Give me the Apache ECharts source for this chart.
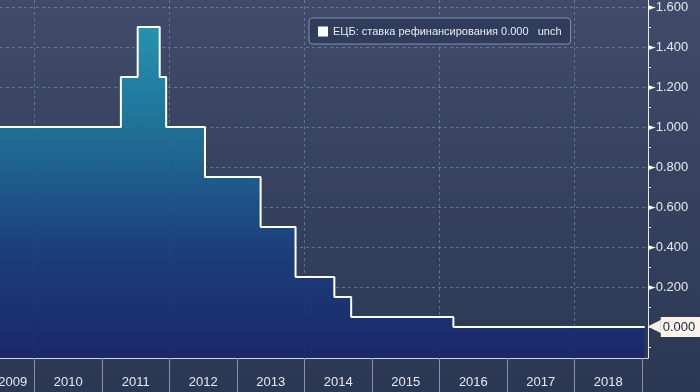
<!DOCTYPE html>
<html><head><meta charset="utf-8">
<script src="https://cdn.jsdelivr.net/npm/echarts@6/dist/echarts.min.js"></script>
<style>html,body{margin:0;padding:0;background:#2f3c58}#c{width:700px;height:392px}</style>
</head><body><div id="c"></div>
<script>
// ---- data ----
const changeDates = ['2009-05-13','2011-04-13','2011-07-13','2011-11-09','2011-12-14','2012-07-11','2013-05-08','2013-11-13','2014-06-11','2014-09-10','2016-03-16','2019-01-15'];
const rates = [1.00, 1.25, 1.50, 1.25, 1.00, 0.75, 0.50, 0.25, 0.15, 0.05, 0.00, 0.00];
const seriesName = 'ЕЦБ: ставка рефинансирования';
const changeText = 'unch';
const yearLabels = ['2009','2010','2011','2012','2013','2014','2015','2016','2017','2018'];
const yearLabelDates = ['2009-09-05','2010-07-02','2011-07-02','2012-07-02','2013-07-02','2014-07-02','2015-07-02','2016-07-02','2017-07-02','2018-07-02'];
const yearBoundaryDates = ['2010-01-01','2011-01-01','2012-01-01','2013-01-01','2014-01-01','2015-01-01','2016-01-01','2017-01-01','2018-01-01','2019-01-01'];
const gridYearDates = ['2010-01-01','2012-01-01','2014-01-01','2016-01-01','2018-01-01'];
const yTickLabels = [0.2, 0.4, 0.6, 0.8, 1.0, 1.2, 1.4, 1.6];
const yMinorTicks = [-0.1, 0, 0.1, 0.2, 0.3, 0.4, 0.5, 0.6, 0.7, 0.8, 0.9, 1.0, 1.1, 1.2, 1.3, 1.4, 1.5, 1.6];
const yGridValues = [0, 0.2, 0.4, 0.6, 0.8, 1.0, 1.2, 1.4, 1.6];
const xMin = '2009-06-28', xMax = '2019-02-02';
const yMin = -0.155, yMax = 1.635;

const ts = d => +new Date(d + 'T00:00:00Z');
const seriesData = changeDates.map((d, i) => [ts(d), rates[i]]);
const lastVal = rates[rates.length - 1];
const labelTs = yearLabelDates.map(ts);

const chart = echarts.init(document.getElementById('c'), null, {renderer: 'canvas'});
const FONT = 'Liberation Sans';
const gridLine = {show: true, lineStyle: {color: 'rgba(140,160,195,0.5)', type: [3, 3], width: 1}};

chart.setOption({
  animation: false,
  backgroundColor: new echarts.graphic.LinearGradient(0, 0, 0, 1, [
    {offset: 0, color: '#3f4b68'}, {offset: 1, color: '#2b3854'}
  ]),
  textStyle: {fontFamily: FONT},
  grid: {left: 0, right: 52, top: 0, bottom: 34, containLabel: false, outerBoundsMode: 'none'},
  legend: {
    left: 309, top: 18, padding: [8, 9, 7, 9],
    backgroundColor: '#2f3c5b', borderColor: '#8791a8', borderWidth: 1, borderRadius: 3,
    icon: 'rect', itemWidth: 10, itemHeight: 10, itemGap: 6,
    data: [seriesName],
    formatter: n => n + ' ' + lastVal.toFixed(3) + '   ' + changeText,
    textStyle: {color: '#e9ecf2', fontSize: 11, fontFamily: FONT}
  },
  xAxis: [{
    type: 'value', min: ts(xMin), max: ts(xMax), position: 'bottom',
    axisLine: {show: true, onZero: false, lineStyle: {color: '#cfd3dc', width: 1}},
    axisTick: {show: true, customValues: yearBoundaryDates.map(ts), length: 34, inside: false,
      lineStyle: {color: '#8a93a8', width: 1}},
    axisLabel: {show: true, customValues: labelTs, margin: 18, color: '#e6e9ef', fontSize: 13, fontFamily: FONT,
      formatter: v => { const i = labelTs.indexOf(v); return i >= 0 ? yearLabels[i] : ''; }},
    splitLine: {show: false}
  }, {
    type: 'value', min: ts(xMin), max: ts(xMax), position: 'top',
    axisLine: {show: false, onZero: false}, axisLabel: {show: false},
    axisTick: {show: false, customValues: gridYearDates.map(ts)},
    splitLine: gridLine
  }],
  yAxis: [{
    type: 'value', min: yMin, max: yMax, position: 'right',
    axisLine: {show: true, onZero: false, lineStyle: {color: '#e6e9ef', width: 1}},
    axisTick: {show: true, customValues: yMinorTicks, length: 3, inside: false, lineStyle: {color: '#e6e9ef'}},
    axisLabel: {show: true, customValues: yTickLabels, margin: 0, color: '#e6e9ef', fontSize: 13, fontFamily: FONT,
      formatter: v => '{t|►}' + v.toFixed(3),
      rich: {t: {fontFamily: 'DejaVu Sans', fontSize: 10, color: '#ffffff', padding: [0, 0, 0, 0]}}},
    splitLine: {show: false}
  }, {
    type: 'value', min: yMin, max: yMax, position: 'left',
    axisLine: {show: false, onZero: false}, axisLabel: {show: false},
    axisTick: {show: false, customValues: yGridValues},
    splitLine: gridLine
  }],
  series: [{
    name: seriesName, type: 'line', step: 'end', symbol: 'none',
    xAxisIndex: 0, yAxisIndex: 0,
    data: seriesData,
    color: '#ffffff',
    lineStyle: {color: '#ffffff', width: 2},
    areaStyle: {origin: 'start', opacity: 0.9, color: {
      type: 'linear', x: 0, y: 20, x2: 0, y2: 358, global: true,
      colorStops: [
        {offset: 0, color: '#239dba'}, {offset: 0.33, color: '#1d749b'},
        {offset: 0.68, color: '#193e7e'}, {offset: 1, color: '#19266b'}
      ]}},
    endLabel: {show: true, distance: 3,
      formatter: p => '{a|◀}{b|' + p.value[1].toFixed(3) + '}',
      rich: {
        a: {fontFamily: 'DejaVu Sans', fontSize: 17, color: '#fdf2e9'},
        b: {fontFamily: FONT, fontSize: 13, color: '#1b2440', backgroundColor: '#fdf2e9', padding: [4, 10, 3, 2]}
      }}
  }]
});
</script></body></html>
